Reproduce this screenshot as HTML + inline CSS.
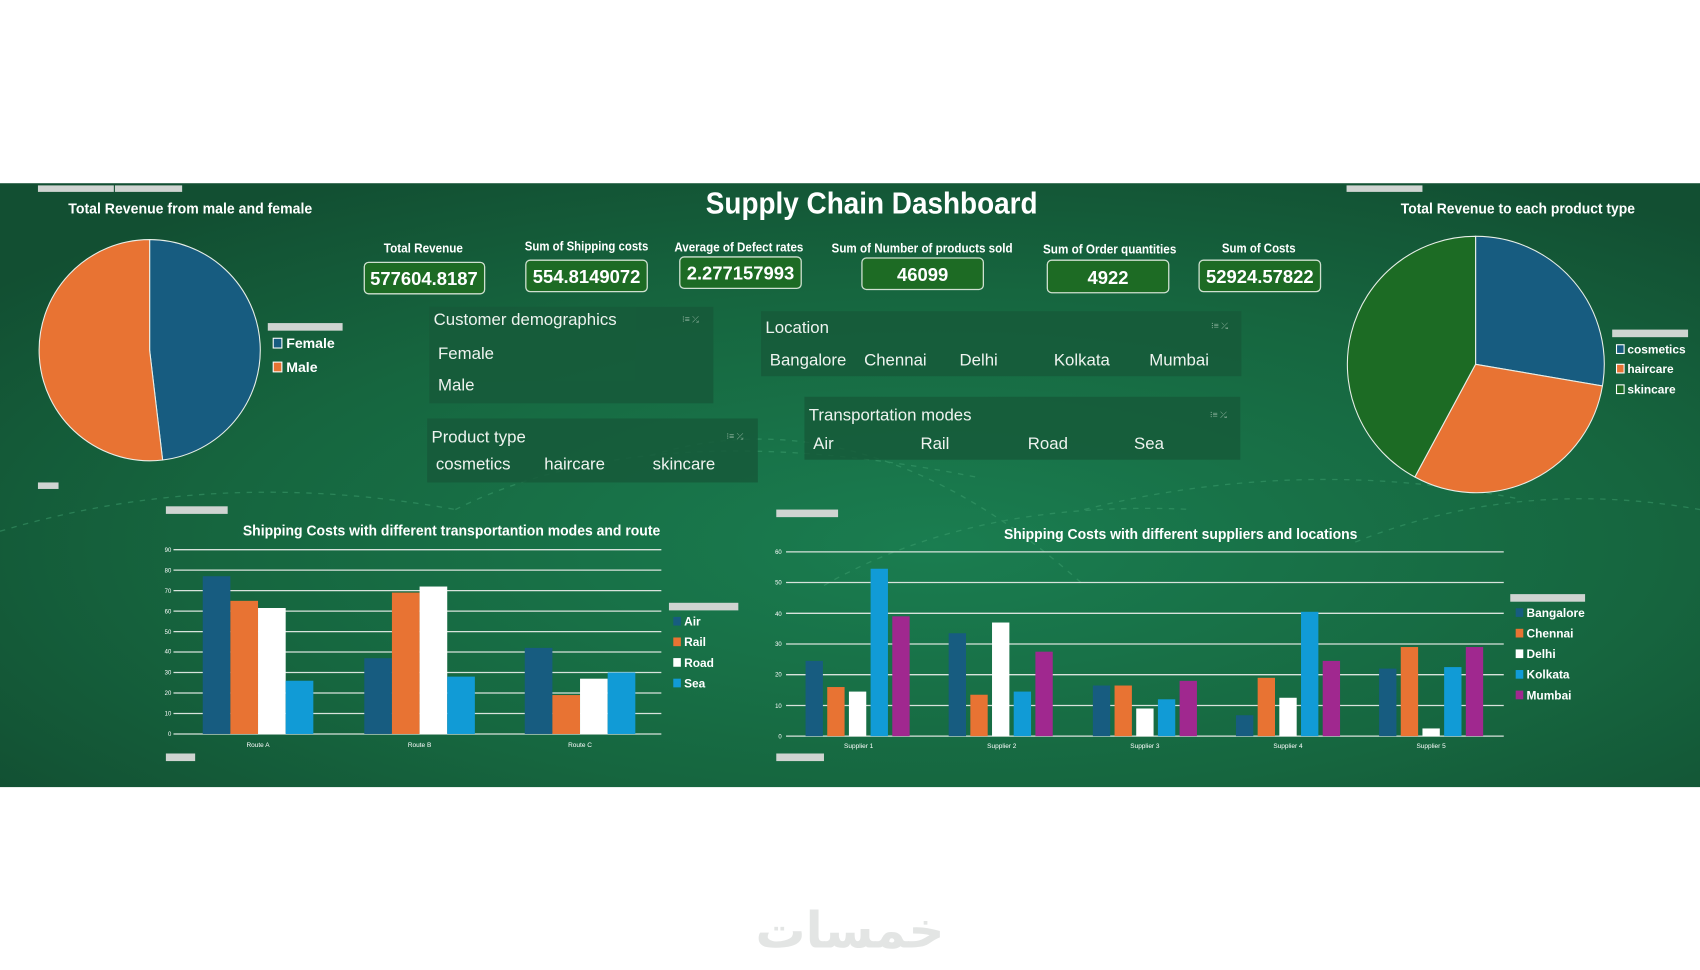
<!DOCTYPE html>
<html><head><meta charset="utf-8"><style>html,body{margin:0;padding:0;background:#fff;}svg{display:block}</style></head>
<body>
<svg width="1700" height="970" viewBox="0 0 1568 894.7" preserveAspectRatio="none" xmlns="http://www.w3.org/2000/svg" font-family="'Liberation Sans Narrow','Liberation Sans',sans-serif">
<defs>
<radialGradient id="bg" cx="0.55" cy="0.6" r="0.7">
<stop offset="0" stop-color="#1a7d50"/><stop offset="0.6" stop-color="#16663f"/><stop offset="1" stop-color="#124f32"/>
</radialGradient>
</defs>
<rect x="0" y="0" width="1568" height="895" fill="#fff"/>
<rect x="0" y="169" width="1568" height="557" fill="url(#bg)"/>
<g fill="none" stroke="#3fa070" stroke-dasharray="5 6" stroke-width="1.2" opacity="0.5">
<path d="M0,490 Q200,430 420,470"/><path d="M420,470 Q600,380 900,440"/><path d="M600,420 Q800,360 1000,540"/><path d="M1000,470 Q1200,420 1400,460"/><path d="M1250,500 Q1400,440 1568,470"/><path d="M760,540 Q900,460 1100,470"/>
</g>
<!-- tags -->
<g fill="#cfd4d1"><rect x="35" y="171" width="70" height="6"/><rect x="106" y="171" width="62" height="6"/><rect x="1242" y="171" width="70" height="6"/><rect x="35" y="445" width="19" height="6"/><rect x="153" y="467" width="57" height="7"/><rect x="716" y="470" width="57" height="7"/><rect x="153" y="695" width="27" height="7"/><rect x="716" y="695" width="44" height="7"/><rect x="247" y="298" width="69" height="7"/><rect x="617" y="556" width="64" height="7"/><rect x="1393" y="548" width="69" height="7"/><rect x="1487" y="304" width="70" height="7"/></g>

<text x="651" y="197" fill="#fff" font-size="28" font-weight="bold" textLength="306" lengthAdjust="spacingAndGlyphs">Supply Chain Dashboard</text>
<text x="63" y="197" fill="#fff" font-size="13.5" font-weight="bold" textLength="225" lengthAdjust="spacingAndGlyphs">Total Revenue from male and female</text>
<text x="1292" y="197" fill="#fff" font-size="13.5" font-weight="bold" textLength="216" lengthAdjust="spacingAndGlyphs">Total Revenue to each product type</text>

<!-- left pie -->
<path d="M138,323 L138,221 A102,102 0 0 1 150,424.3 Z" fill="#175c80" stroke="#e8efe8" stroke-width="1"/>
<path d="M138,323 L150,424.3 A102,102 0 1 1 138,221 Z" fill="#e87333" stroke="#e8efe8" stroke-width="1"/>
<rect x="252" y="312" width="8" height="9" fill="#175c80" stroke="#fff"/><text x="264" y="321" fill="#fff" font-size="13" font-weight="bold">Female</text>
<rect x="252" y="334" width="8" height="9" fill="#e87333" stroke="#fff"/><text x="264" y="343" fill="#fff" font-size="13" font-weight="bold">Male</text>

<!-- right pie -->
<path d="M1361,336 L1361,218 A118,118 0 0 1 1478,356 Z" fill="#175c80" stroke="#e8efe8"/>
<path d="M1361,336 L1478,356 A118,118 0 0 1 1305,440 Z" fill="#e87333" stroke="#e8efe8"/>
<path d="M1361,336 L1305,440 A118,118 0 0 1 1361,218 Z" fill="#1c6b24" stroke="#e8efe8"/>
<rect x="1491" y="318" width="7" height="8" fill="#175c80" stroke="#fff"/><text x="1501" y="326" fill="#fff" font-size="11" font-weight="bold">cosmetics</text>
<rect x="1491" y="336" width="7" height="8" fill="#e87333" stroke="#fff"/><text x="1501" y="344" fill="#fff" font-size="11" font-weight="bold">haircare</text>
<rect x="1491" y="355" width="7" height="8" fill="#1c6b24" stroke="#fff"/><text x="1501" y="363" fill="#fff" font-size="11" font-weight="bold">skincare</text>

<!-- KPIs -->
<g fill="#fff" font-weight="bold" font-size="11.5">
<text x="354" y="233" textLength="73" lengthAdjust="spacingAndGlyphs">Total Revenue</text><text x="484" y="231" textLength="114" lengthAdjust="spacingAndGlyphs">Sum of Shipping costs</text><text x="622" y="232" textLength="119" lengthAdjust="spacingAndGlyphs">Average of Defect rates</text><text x="767" y="233" textLength="167" lengthAdjust="spacingAndGlyphs">Sum of Number of products sold</text><text x="962" y="234" textLength="123" lengthAdjust="spacingAndGlyphs">Sum of Order quantities</text><text x="1127" y="233" textLength="68" lengthAdjust="spacingAndGlyphs">Sum of Costs</text>
</g>
<g fill="#1d6b24" stroke="#cfe0d0" stroke-width="1.2">
<rect x="336" y="242" width="111" height="29" rx="4"/><rect x="485" y="240" width="112" height="29" rx="4"/><rect x="627" y="237" width="112" height="29" rx="4"/><rect x="795" y="238" width="112" height="29" rx="4"/><rect x="966" y="240" width="112" height="30" rx="4"/><rect x="1106" y="240" width="112" height="29" rx="4"/>
</g>
<g fill="#fff" font-weight="bold" font-size="17" text-anchor="middle">
<text x="391" y="263">577604.8187</text><text x="541" y="261">554.8149072</text><text x="683" y="258">2.277157993</text><text x="851" y="259">46099</text><text x="1022" y="262">4922</text><text x="1162" y="261">52924.57822</text>
</g>

<!-- slicers -->
<g fill="#165a3a" opacity="0.85">
<rect x="396" y="283" width="262" height="89"/><rect x="394" y="386" width="305" height="59"/><rect x="702" y="287" width="443" height="60"/><rect x="742" y="366" width="402" height="58"/>
</g>
<g fill="#eef3ef" font-size="15.5">
<text x="400" y="300">Customer demographics</text><text x="404" y="331">Female</text><text x="404" y="360">Male</text>
<text x="398" y="408">Product type</text><text x="402" y="433">cosmetics</text><text x="502" y="433">haircare</text><text x="602" y="433">skincare</text>
<text x="706" y="307">Location</text><text x="710" y="337">Bangalore</text><text x="797" y="337">Chennai</text><text x="885" y="337">Delhi</text><text x="972" y="337">Kolkata</text><text x="1060" y="337">Mumbai</text>
<text x="746" y="388">Transportation modes</text><text x="750" y="414">Air</text><text x="849" y="414">Rail</text><text x="948" y="414">Road</text><text x="1046" y="414">Sea</text>
</g>
<g fill="#8fb39e" font-size="8"><text x="629" y="297">⁝≡ ⤰</text><text x="670" y="405">⁝≡ ⤰</text><text x="1117" y="303">⁝≡ ⤰</text><text x="1116" y="385">⁝≡ ⤰</text></g>

<!-- left bar chart -->
<text x="224" y="494" fill="#fff" font-size="13.5" font-weight="bold" textLength="385" lengthAdjust="spacingAndGlyphs">Shipping Costs with different transportantion modes and route</text>
<g stroke="#d8e3dc" stroke-width="1.2">
<line x1="160" x2="610" y1="677" y2="677"/><line x1="160" x2="610" y1="658.1" y2="658.1"/><line x1="160" x2="610" y1="639.2" y2="639.2"/><line x1="160" x2="610" y1="620.3" y2="620.3"/><line x1="160" x2="610" y1="601.4" y2="601.4"/><line x1="160" x2="610" y1="582.6" y2="582.6"/><line x1="160" x2="610" y1="563.7" y2="563.7"/><line x1="160" x2="610" y1="544.8" y2="544.8"/><line x1="160" x2="610" y1="525.9" y2="525.9"/><line x1="160" x2="610" y1="507" y2="507"/>
</g>
<g fill="#fff" font-size="5.5" text-anchor="end">
<text x="158" y="679">0</text><text x="158" y="660">10</text><text x="158" y="641">20</text><text x="158" y="622">30</text><text x="158" y="603">40</text><text x="158" y="585">50</text><text x="158" y="566">60</text><text x="158" y="547">70</text><text x="158" y="528">80</text><text x="158" y="509">90</text>
</g>
<g>
<rect x="187" y="531.5" width="25.5" height="145.5" fill="#175c80"/><rect x="212.5" y="554.2" width="25.5" height="122.8" fill="#e87333"/><rect x="238" y="560.8" width="25.5" height="116.2" fill="#fff"/><rect x="263.5" y="627.9" width="25.5" height="49.1" fill="#119bd6"/>
<rect x="336" y="607.1" width="25.5" height="69.9" fill="#175c80"/><rect x="361.5" y="546.6" width="25.5" height="130.4" fill="#e87333"/><rect x="387" y="541" width="25.5" height="136" fill="#fff"/><rect x="412.5" y="624.1" width="25.5" height="52.9" fill="#119bd6"/>
<rect x="484" y="597.6" width="25.5" height="79.4" fill="#175c80"/><rect x="509.5" y="641.1" width="25.5" height="35.9" fill="#e87333"/><rect x="535" y="626" width="25.5" height="51" fill="#fff"/><rect x="560.5" y="620.3" width="25.5" height="56.7" fill="#119bd6"/>
</g>
<g fill="#fff" font-size="6" text-anchor="middle"><text x="238" y="689">Route A</text><text x="387" y="689">Route B</text><text x="535" y="689">Route C</text></g>
<g font-size="11" font-weight="bold" fill="#fff">
<rect x="621" y="569" width="7" height="8" fill="#175c80"/><text x="631" y="577">Air</text>
<rect x="621" y="588" width="7" height="8" fill="#e87333"/><text x="631" y="596">Rail</text>
<rect x="621" y="607" width="7" height="8" fill="#fff"/><text x="631" y="615">Road</text>
<rect x="621" y="626" width="7" height="8" fill="#119bd6"/><text x="631" y="634">Sea</text>
</g>

<!-- right bar chart -->
<text x="926" y="497" fill="#fff" font-size="13.5" font-weight="bold" textLength="326" lengthAdjust="spacingAndGlyphs">Shipping Costs with different suppliers and locations</text>
<g stroke="#d8e3dc" stroke-width="1.2">
<line x1="725" x2="1387" y1="679" y2="679"/><line x1="725" x2="1387" y1="650.7" y2="650.7"/><line x1="725" x2="1387" y1="622.3" y2="622.3"/><line x1="725" x2="1387" y1="594" y2="594"/><line x1="725" x2="1387" y1="565.7" y2="565.7"/><line x1="725" x2="1387" y1="537.3" y2="537.3"/><line x1="725" x2="1387" y1="509" y2="509"/>
</g>
<g fill="#fff" font-size="5.5" text-anchor="end">
<text x="721" y="681">0</text><text x="721" y="653">10</text><text x="721" y="624">20</text><text x="721" y="596">30</text><text x="721" y="568">40</text><text x="721" y="539">50</text><text x="721" y="511">60</text>
</g>
<g>
<rect x="743" y="609.6" width="16" height="69.4" fill="#175c80"/><rect x="763" y="633.7" width="16" height="45.3" fill="#e87333"/><rect x="783" y="637.9" width="16" height="41.1" fill="#fff"/><rect x="803" y="524.6" width="16" height="154.4" fill="#119bd6"/><rect x="823" y="568.5" width="16" height="110.5" fill="#a0288f"/>
<rect x="875" y="584.1" width="16" height="94.9" fill="#175c80"/><rect x="895" y="640.8" width="16" height="38.2" fill="#e87333"/><rect x="915" y="574.2" width="16" height="104.8" fill="#fff"/><rect x="935" y="637.9" width="16" height="41.1" fill="#119bd6"/><rect x="955" y="601.1" width="16" height="77.9" fill="#a0288f"/>
<rect x="1008" y="632.3" width="16" height="46.7" fill="#175c80"/><rect x="1028" y="632.3" width="16" height="46.7" fill="#e87333"/><rect x="1048" y="653.5" width="16" height="25.5" fill="#fff"/><rect x="1068" y="645" width="16" height="34" fill="#119bd6"/><rect x="1088" y="628" width="16" height="51" fill="#a0288f"/>
<rect x="1140" y="659.7" width="16" height="19.3" fill="#175c80"/><rect x="1160" y="625.2" width="16" height="53.8" fill="#e87333"/><rect x="1180" y="643.6" width="16" height="35.4" fill="#fff"/><rect x="1200" y="564.3" width="16" height="114.7" fill="#119bd6"/><rect x="1220" y="609.6" width="16" height="69.4" fill="#a0288f"/>
<rect x="1272" y="616.7" width="16" height="62.3" fill="#175c80"/><rect x="1292" y="596.8" width="16" height="82.2" fill="#e87333"/><rect x="1312" y="671.9" width="16" height="7.1" fill="#fff"/><rect x="1332" y="615.3" width="16" height="63.7" fill="#119bd6"/><rect x="1352" y="596.8" width="16" height="82.2" fill="#a0288f"/>
</g>
<g fill="#fff" font-size="6" text-anchor="middle"><text x="792" y="690">Supplier 1</text><text x="924" y="690">Supplier 2</text><text x="1056" y="690">Supplier 3</text><text x="1188" y="690">Supplier 4</text><text x="1320" y="690">Supplier 5</text></g>
<g font-size="11" font-weight="bold" fill="#fff">
<rect x="1398" y="561" width="7" height="8" fill="#175c80"/><text x="1408" y="569">Bangalore</text>
<rect x="1398" y="580" width="7" height="8" fill="#e87333"/><text x="1408" y="588">Chennai</text>
<rect x="1398" y="599" width="7" height="8" fill="#fff"/><text x="1408" y="607">Delhi</text>
<rect x="1398" y="618" width="7" height="8" fill="#119bd6"/><text x="1408" y="626">Kolkata</text>
<rect x="1398" y="637" width="7" height="8" fill="#a0288f"/><text x="1408" y="645">Mumbai</text>
</g>

<text x="784" y="874" text-anchor="middle" fill="#e3e5e4" font-size="46" font-weight="bold" font-family="'DejaVu Sans',sans-serif">خمسات</text>
</svg>
</body></html>
